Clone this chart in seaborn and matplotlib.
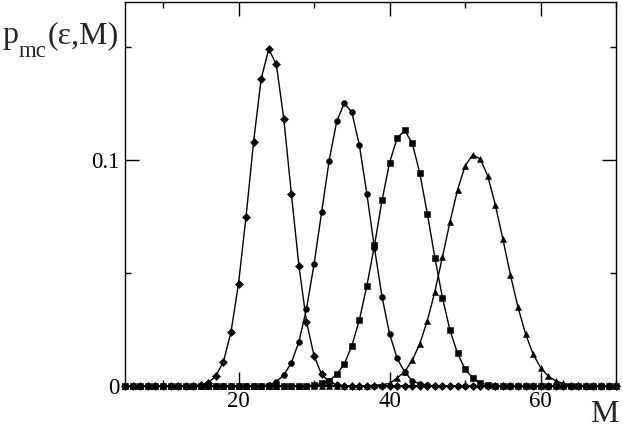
import numpy as np
import pandas as pd
import matplotlib
matplotlib.use("Agg")
import matplotlib.pyplot as plt
import seaborn as sns

# M axis (one point per integer M)
M = np.arange(5, 71)

# p_mc(eps, M), M = 5 ... 70
diamond = [
    0, 0, 0, 0, 0, 0, 0, 0, 0, 0,                                                     # 5-14
    0.0004, 0.0013, 0.0043, 0.0106, 0.0237, 0.0452, 0.0749, 0.1081, 0.1359, 0.1490,   # 15-24
    0.1424, 0.1180, 0.0849, 0.0530, 0.0284, 0.0132, 0.0050, 0.0018, 0.0004, 0,        # 25-34
    0, 0, 0, 0, 0, 0, 0, 0, 0, 0,                                                     # 35-44
    0, 0, 0, 0, 0, 0, 0, 0, 0, 0,                                                     # 45-54
    0, 0, 0, 0, 0, 0, 0, 0, 0, 0,                                                     # 55-64
    0, 0, 0, 0, 0, 0]                                                                 # 65-70
circle = [
    0, 0, 0, 0, 0, 0, 0, 0, 0, 0,
    0, 0, 0, 0, 0, 0, 0, 0, 0, 0.0004,
    0.0017, 0.0048, 0.0102, 0.0195, 0.0340, 0.0538, 0.0767, 0.0996, 0.1170, 0.1251,
    0.1211, 0.1065, 0.0848, 0.0610, 0.0394, 0.0230, 0.0121, 0.0060, 0.0022, 0.0008,
    0.0002, 0, 0, 0, 0, 0, 0, 0, 0, 0,
    0, 0, 0, 0, 0, 0, 0, 0, 0, 0,
    0, 0, 0, 0, 0, 0]
square = [
    0, 0, 0, 0, 0, 0, 0, 0, 0, 0,
    0, 0, 0, 0, 0, 0, 0, 0, 0, 0,
    0, 0, 0, 0, 0, 0.0003, 0.0010, 0.0022, 0.0050, 0.0096,
    0.0176, 0.0291, 0.0443, 0.0621, 0.0820, 0.0987, 0.1096, 0.1130, 0.1074, 0.0941,
    0.0761, 0.0567, 0.0390, 0.0245, 0.0144, 0.0073, 0.0035, 0.0013, 0.0004, 0,
    0, 0, 0, 0, 0, 0, 0, 0, 0, 0,
    0, 0, 0, 0, 0, 0]
triangle = [
    0, 0, 0, 0, 0, 0, 0, 0, 0, 0,
    0, 0, 0, 0, 0, 0, 0, 0, 0, 0,
    0, 0, 0, 0, 0, 0, 0, 0, 0, 0,
    0, 0, 0, 0.0002, 0.0005, 0.0010, 0.0034, 0.0062, 0.0112, 0.0186,
    0.0288, 0.0417, 0.0570, 0.0725, 0.0867, 0.0973, 0.1022, 0.1004, 0.0929, 0.0801,
    0.0649, 0.0491, 0.0348, 0.0230, 0.0140, 0.0080, 0.0043, 0.0021, 0.0010, 0.0004,
    0.0001, 0, 0, 0, 0, 0]

series = [(diamond, "D", 4.5), (circle, "o", 4.2), (square, "s", 3.8), (triangle, "^", 4.6)]

sns.set_style("ticks")
plt.rcParams["font.family"] = ["Liberation Serif", "DejaVu Serif"]

fig, ax = plt.subplots(figsize=(6.23, 4.30), dpi=100)
fig.subplots_adjust(left=0.201, right=0.989, bottom=0.103, top=0.996)

for vals, mk, ms in series:
    sns.lineplot(x=M, y=vals, ax=ax, color="black", linewidth=1.0,
                 marker=mk, markersize=ms, markeredgewidth=0.4,
                 markeredgecolor="black", markerfacecolor="black",
                 clip_on=False, zorder=3)

ax.set_xlim(5, 70)
ax.set_ylim(0, 0.17)
ax.set_xticks([20, 40, 60])
ax.set_xticks([10, 30, 50, 70], minor=True)
ax.set_yticks([0, 0.1])
ax.set_yticklabels(["0", "0.1"])
ax.set_yticks([0.05, 0.15], minor=True)
ax.set_xlabel("")
ax.set_ylabel("")

for s in ax.spines.values():
    s.set_visible(True)
    s.set_linewidth(1.0)
    s.set_color("black")

ax.tick_params(which="both", direction="in", top=True, right=True, width=1.0, colors="black")
ax.tick_params(which="major", length=10, labelsize=16.5)
ax.tick_params(which="minor", length=4)
ax.tick_params(axis="y", pad=4)
ax.tick_params(axis="x", pad=4)

# y label p_mc(eps,M) built from pieces so the subscript sits low, as in the original
fig.text(0.004, 0.900, "p", fontsize=23, ha="left", va="baseline")
fig.text(0.030, 0.867, "mc", fontsize=16.5, ha="left", va="baseline")
fig.text(0.076, 0.900, "(ε,M)", fontsize=23, ha="left", va="baseline")
fig.text(0.993, 0.018, "M", fontsize=23, ha="right", va="baseline")

fig.savefig("out.png", dpi=100)
